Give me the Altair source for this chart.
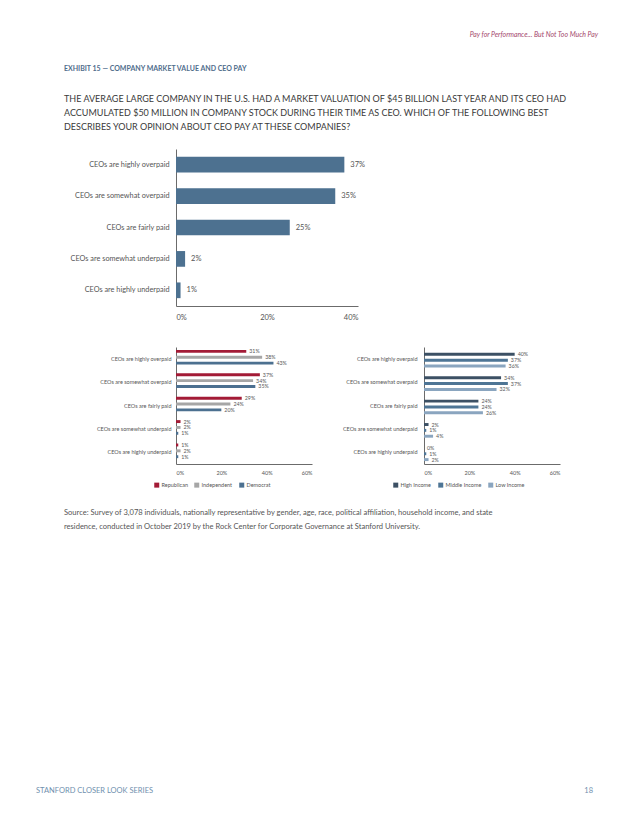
import altair as alt
import pandas as pd

FONT = "Lato"

# ---------------- data ----------------
categories = [
    "CEOs are highly overpaid",
    "CEOs are somewhat overpaid",
    "CEOs are fairly paid",
    "CEOs are somewhat underpaid",
    "CEOs are highly underpaid",
]
overall = [37, 35, 25, 2, 1]

parties = ["Republican", "Independent", "Democrat"]
republican = [31, 37, 29, 2, 1]
independent = [38, 34, 24, 2, 2]
democrat = [43, 35, 20, 1, 1]

incomes = ["High Income", "Middle Income", "Low Income"]
high_income = [40, 34, 24, 2, 0]
middle_income = [37, 37, 24, 1, 1]
low_income = [36, 32, 26, 4, 2]

x_ticks_top = [0, 20, 40]
x_ticks_small = [0, 20, 40, 60]

header_text = "Pay for Performance... But Not Too Much Pay"
exhibit_title = "EXHIBIT 15 \u2014 COMPANY MARKET VALUE AND CEO PAY"
question_lines = [
    "THE AVERAGE LARGE COMPANY IN THE U.S. HAD A MARKET VALUATION OF $45 BILLION LAST YEAR AND ITS CEO HAD",
    "ACCUMULATED $50 MILLION IN COMPANY STOCK DURING THEIR TIME AS CEO. WHICH OF THE FOLLOWING BEST",
    "DESCRIBES YOUR OPINION ABOUT CEO PAY AT THESE COMPANIES?",
]
source_lines = [
    "Source: Survey of 3,078 individuals, nationally representative by gender, age, race, political affiliation, household income, and state",
    "residence, conducted in October 2019 by the Rock Center for Corporate Governance at Stanford University.",
]
footer_left = "STANFORD CLOSER LOOK SERIES"
footer_page = "18"

party_colors = ["#a31b36", "#a6a6a6", "#4c7090"]
income_colors = ["#3c5064", "#4e7595", "#8aa5bf"]

LABEL_GRAY = "#555555"
AXIS_GRAY = "#6b6b6b"


def txt(s, x, y, **kw):
    props = dict(align="left", baseline="middle", font=FONT, text=s)
    props.update(kw)
    return alt.Chart(alt.Data(values=[{}])).mark_text(**props).encode(
        x=alt.value(x), y=alt.value(y)
    )


# all panels share the same left origin (page x = 178)
# ---------------- header ----------------
header_layers = [
    txt(header_text, 422, 26, align="right", fontStyle="italic", fontSize=6.9, color="#a3456b"),
    txt(exhibit_title, -112, 60, fontWeight="bold", fontSize=7.0, color="#4f6d8c"),
]
for i, line in enumerate(question_lines):
    header_layers.append(txt(line, -112, 90 + 14 * i, fontSize=9.0, color="#3a3a3a"))
header = alt.layer(*header_layers).properties(width=452, height=138)

# ---------------- top chart ----------------
top_df = pd.DataFrame({"category": categories, "value": overall})
top_base = alt.Chart(top_df).transform_calculate(
    label="datum.value + '%'"
).encode(
    y=alt.Y(
        "category:N",
        sort=categories,
        scale=alt.Scale(paddingInner=0.5, paddingOuter=0.25),
        axis=alt.Axis(
            title=None, ticks=False, labelFontSize=7.3, labelColor=LABEL_GRAY,
            labelPadding=7, domainColor=AXIS_GRAY, minExtent=167, maxExtent=167,
            labelFont=FONT,
        ),
    ),
    x=alt.X(
        "value:Q",
        scale=alt.Scale(domain=[0, 40]),
        axis=alt.Axis(
            title=None, values=x_ticks_top, labelExpr="datum.value + '%'",
            grid=False, ticks=False, domainColor=AXIS_GRAY, labelPadding=7,
            labelFontSize=7.5, labelColor=LABEL_GRAY, labelFont=FONT,
            minExtent=39, maxExtent=39,
        ),
    ),
)
top = alt.layer(
    top_base.mark_bar(color="#4d7190"),
    top_base.mark_text(align="left", dx=6, fontSize=7.5, color=LABEL_GRAY, font=FONT).encode(
        text="label:N"
    ),
).properties(width=182, height=157)


# ---------------- small charts ----------------
def long_df(series_names, series_values):
    rows = []
    for name, vals in zip(series_names, series_values):
        for c, v in zip(categories, vals):
            rows.append({"category": c, "series": name, "value": v})
    return pd.DataFrame(rows)


def small_chart(df, order, colors, y_extent, y_pad, legend_x):
    base = alt.Chart(df).transform_calculate(label="datum.value + '%'").encode(
        y=alt.Y(
            "category:N",
            sort=categories,
            scale=alt.Scale(paddingInner=0.25, paddingOuter=0.125),
            axis=alt.Axis(
                title=None, ticks=False, labelFontSize=5.5, labelColor=LABEL_GRAY,
                labelPadding=y_pad, domainColor=AXIS_GRAY, minExtent=y_extent,
                maxExtent=y_extent, labelFont=FONT,
            ),
        ),
        yOffset=alt.YOffset("series:N", sort=order),
        x=alt.X(
            "value:Q",
            scale=alt.Scale(domain=[0, 60]),
            axis=alt.Axis(
                title=None, values=x_ticks_small, labelExpr="datum.value + '%'",
                grid=False, ticks=False, domainColor=AXIS_GRAY, labelPadding=6,
                labelFontSize=5.5, labelColor=LABEL_GRAY, labelFont=FONT,
                minExtent=40, maxExtent=40,
            ),
        ),
    )
    bars = base.mark_bar().encode(
        color=alt.Color(
            "series:N",
            sort=order,
            scale=alt.Scale(domain=order, range=colors),
            legend=alt.Legend(
                title=None, orient="none", legendX=legend_x, legendY=135,
                direction="horizontal", columns=3, symbolType="square",
                symbolSize=25, symbolStrokeWidth=0, labelFontSize=5.5,
                labelFont=FONT, labelColor=LABEL_GRAY, columnPadding=6,
                labelOffset=2, padding=0,
            ),
        )
    )
    labels = base.mark_text(align="left", dx=3, fontSize=5.3, color=LABEL_GRAY, font=FONT).encode(
        text="label:N"
    )
    return alt.layer(bars, labels).properties(width=136, height=117)


left = small_chart(
    long_df(parties, [republican, independent, democrat]),
    parties, party_colors, 167, 5, -22,
)
right = small_chart(
    long_df(incomes, [high_income, middle_income, low_income]),
    incomes, income_colors, 110, 7, -31,
)
small_row = alt.hconcat(left, right, spacing=0).resolve_scale(
    color="independent", x="independent", y="independent"
)

# ---------------- footer ----------------
footer_layers = [
    txt(source_lines[0], -112, 7, fontSize=7.55, color=LABEL_GRAY),
    txt(source_lines[1], -112, 21, fontSize=7.55, color=LABEL_GRAY),
    txt(footer_left, -140, 285, fontSize=7.5, color="#6f8fae"),
    txt(footer_page, 417, 285, align="right", fontSize=7.5, color="#6f8fae"),
]
footer = alt.layer(*footer_layers).properties(width=452, height=293)

chart = (
    alt.vconcat(header, top, small_row, footer, spacing=0)
    .properties(padding=0, background="white")
    .configure(font=FONT, view=alt.ViewConfig(stroke="transparent"))
)

chart.save("out.html", embed_options={"renderer": "svg", "actions": False})
